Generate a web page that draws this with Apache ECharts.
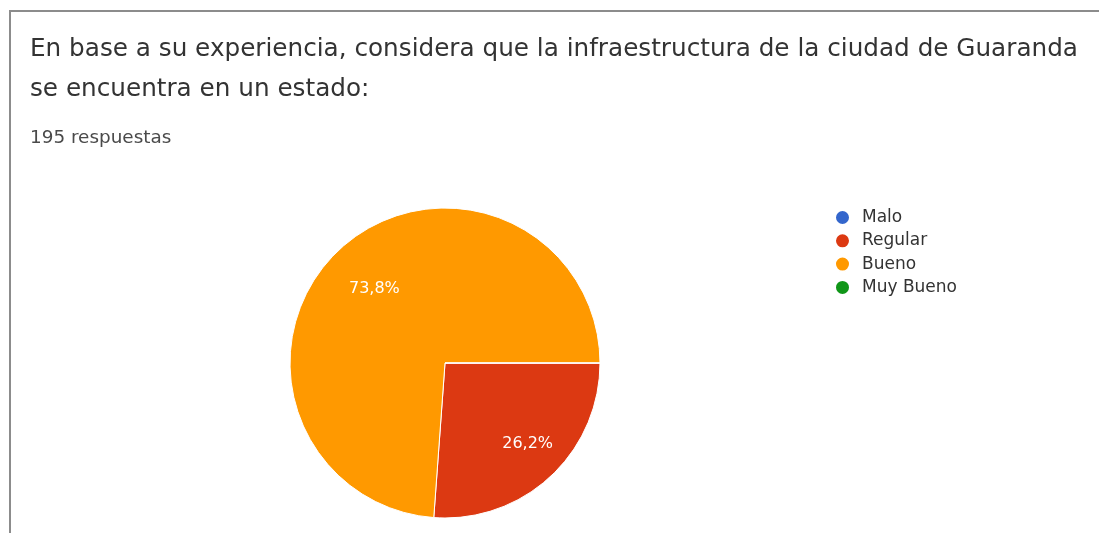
<!DOCTYPE html>
<html>
<head>
<meta charset="utf-8">
<script src="https://cdn.jsdelivr.net/npm/echarts@6/dist/echarts.min.js"></script>
<style>
html,body{margin:0;padding:0;background:#fff;overflow:hidden;}
#card{position:absolute;left:9px;top:10px;width:1200px;height:600px;border-left:2px solid #8c8c8c;border-top:2px solid #8c8c8c;}
#chart{position:absolute;left:0;top:0;width:1099px;height:533px;}
</style>
</head>
<body>
<div id="card"></div>
<div id="chart"></div>
<script>
const titleText = "En base a su experiencia, considera que la infraestructura de la ciudad de Guaranda\nse encuentra en un estado:";
const subtitleText = "195 respuestas";
const categories = ["Malo", "Regular", "Bueno", "Muy Bueno"];
const counts = [0, 51, 144, 0];
const colors = ["#3366cc", "#dc3912", "#ff9900", "#109618"];

const total = counts.reduce((a, b) => a + b, 0);
const data = categories.map((c, i) => ({ name: c, value: counts[i], itemStyle: { color: colors[i] } }));
const labelShift = { Regular: [6, -2], Bueno: [6, 8] };

const chart = echarts.init(document.getElementById('chart'));
chart.setOption({
  animation: false,
  title: {
    text: titleText,
    subtext: subtitleText,
    left: 25,
    top: 25,
    itemGap: 19,
    textStyle: { fontFamily: 'DejaVu Sans', fontSize: 24.7, fontWeight: 'normal', color: '#333', lineHeight: 40 },
    subtextStyle: { fontFamily: 'DejaVu Sans', fontSize: 18.4, color: '#4a4a4a', lineHeight: 18 }
  },
  legend: {
    orient: 'vertical',
    left: 829,
    top: 204,
    icon: 'circle',
    itemWidth: 15,
    itemHeight: 15,
    itemGap: 6.3,
    data: categories,
    textStyle: { fontFamily: 'DejaVu Sans', fontSize: 17, lineHeight: 17, color: '#333', padding: [0, 0, 0, 7] }
  },
  series: [
    {
      type: 'pie',
      center: [445, 363],
      radius: [0, 155],
      startAngle: 0,
      clockwise: true,
      silent: true,
      avoidLabelOverlap: false,
      itemStyle: { borderColor: '#fff', borderWidth: 1 },
      label: { show: false },
      labelLine: { show: false },
      data: data
    },
    {
      type: 'pie',
      center: [445, 363],
      radius: [64, 155],
      startAngle: 0,
      clockwise: true,
      silent: true,
      legendHoverLink: false,
      avoidLabelOverlap: false,
      itemStyle: { color: 'rgba(0,0,0,0)', borderWidth: 0 },
      emphasis: { disabled: true },
      label: {
        show: true,
        position: 'inside',
        color: '#fff',
        fontFamily: 'DejaVu Sans',
        fontSize: 16,
        formatter: p => p.value > 0 ? (p.value / total * 100).toFixed(1).replace('.', ',') + '%' : ''
      },
      labelLine: { show: false },
      data: categories.map((c, i) => ({
        name: c + ' ',
        value: counts[i],
        label: labelShift[c] ? { offset: labelShift[c] } : undefined
      }))
    }
  ]
});
</script>
</body>
</html>
